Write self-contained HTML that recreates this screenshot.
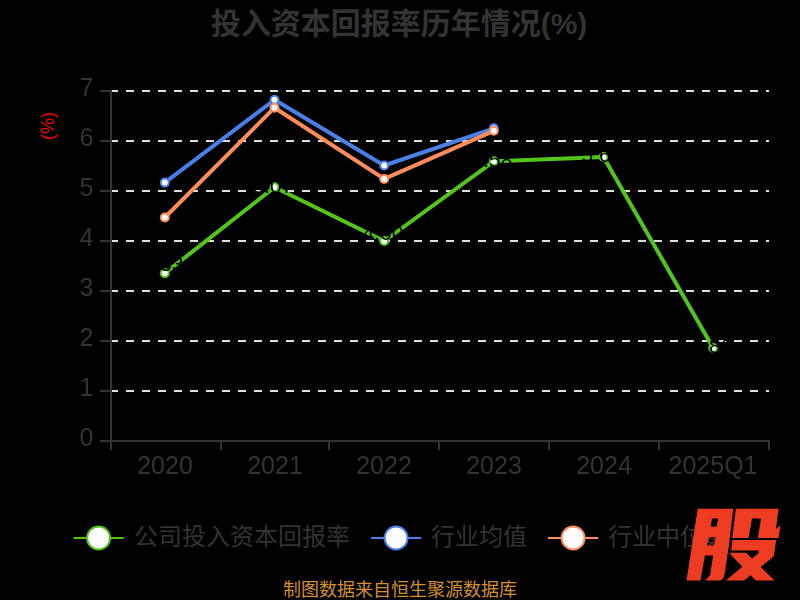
<!DOCTYPE html>
<html lang="zh"><head><meta charset="utf-8"><title>投入资本回报率历年情况(%)</title>
<style>
html,body{margin:0;padding:0;background:#000;}
body{width:800px;height:600px;position:relative;overflow:hidden;font-family:"Liberation Sans",sans-serif;color:#333333;}
svg{position:absolute;left:0;top:0;}
svg text{font-family:"Liberation Sans","Noto Sans CJK SC",sans-serif;}
.yl,.xl{will-change:transform;}
.yl{position:absolute;left:40px;width:53px;text-align:right;font-size:25px;letter-spacing:-0.3px;line-height:28px;height:28px;}
.xl{position:absolute;top:450.7px;width:120px;text-align:center;font-size:25px;letter-spacing:0;line-height:28px;height:28px;}
.dl{position:absolute;width:60px;text-align:center;font-size:21px;line-height:22px;height:22px;color:#000;will-change:transform;}
.unit{position:absolute;left:47.5px;top:126px;width:0;height:0;}
.unit span{position:absolute;left:-30px;top:-12px;width:60px;height:24px;line-height:24px;text-align:center;font-size:18px;color:#ff0000;transform:rotate(-90deg);display:block;}
</style></head>
<body>
<svg width="800" height="600" viewBox="0 0 800 600">
<line x1="110" y1="391" x2="769" y2="391" stroke="#dedede" stroke-width="2" stroke-dasharray="8 8"/>
<line x1="110" y1="341" x2="769" y2="341" stroke="#dedede" stroke-width="2" stroke-dasharray="8 8"/>
<line x1="110" y1="291" x2="769" y2="291" stroke="#dedede" stroke-width="2" stroke-dasharray="8 8"/>
<line x1="110" y1="241" x2="769" y2="241" stroke="#dedede" stroke-width="2" stroke-dasharray="8 8"/>
<line x1="110" y1="191" x2="769" y2="191" stroke="#dedede" stroke-width="2" stroke-dasharray="8 8"/>
<line x1="110" y1="141" x2="769" y2="141" stroke="#dedede" stroke-width="2" stroke-dasharray="8 8"/>
<line x1="110" y1="91" x2="769" y2="91" stroke="#dedede" stroke-width="2" stroke-dasharray="8 8"/>
<g stroke="#333333" stroke-width="2" fill="none">
<line x1="111" y1="89.5" x2="111" y2="442"/>
<line x1="100" y1="441" x2="770" y2="441"/>
<line x1="100" y1="391" x2="111" y2="391"/>
<line x1="100" y1="341" x2="111" y2="341"/>
<line x1="100" y1="291" x2="111" y2="291"/>
<line x1="100" y1="241" x2="111" y2="241"/>
<line x1="100" y1="191" x2="111" y2="191"/>
<line x1="100" y1="141" x2="111" y2="141"/>
<line x1="100" y1="91" x2="111" y2="91"/>
<line x1="111" y1="441" x2="111" y2="450"/>
<line x1="221" y1="441" x2="221" y2="450"/>
<line x1="329" y1="441" x2="329" y2="450"/>
<line x1="439" y1="441" x2="439" y2="450"/>
<line x1="549" y1="441" x2="549" y2="450"/>
<line x1="659" y1="441" x2="659" y2="450"/>
<line x1="769" y1="441" x2="769" y2="450"/>
</g>
<polyline points="164.8,273.3 274.5,187.2 384.2,241 493.8,161.3 603.5,157 713.2,348" fill="none" stroke="#52c41a" stroke-width="4" stroke-linejoin="round"/>
<circle cx="164.8" cy="273.3" r="4" fill="#fff" stroke="#52c41a" stroke-width="2"/>
<circle cx="274.5" cy="187.2" r="4" fill="#fff" stroke="#52c41a" stroke-width="2"/>
<circle cx="384.2" cy="241" r="4" fill="#fff" stroke="#52c41a" stroke-width="2"/>
<circle cx="493.8" cy="161.3" r="4" fill="#fff" stroke="#52c41a" stroke-width="2"/>
<circle cx="603.5" cy="157" r="4" fill="#fff" stroke="#52c41a" stroke-width="2"/>
<circle cx="713.2" cy="348" r="4" fill="#fff" stroke="#52c41a" stroke-width="2"/>
<polyline points="164.8,182.6 274.5,99.8 384.2,165.5 493.8,128.3" fill="none" stroke="#4a7fe8" stroke-width="4" stroke-linejoin="round"/>
<circle cx="164.8" cy="182.6" r="4" fill="#fff" stroke="#4a7fe8" stroke-width="2"/>
<circle cx="274.5" cy="99.8" r="4" fill="#fff" stroke="#4a7fe8" stroke-width="2"/>
<circle cx="384.2" cy="165.5" r="4" fill="#fff" stroke="#4a7fe8" stroke-width="2"/>
<circle cx="493.8" cy="128.3" r="4" fill="#fff" stroke="#4a7fe8" stroke-width="2"/>
<polyline points="164.8,217.5 274.5,107.7 384.2,178.9 493.8,130.8" fill="none" stroke="#ff8c5a" stroke-width="4" stroke-linejoin="round"/>
<circle cx="164.8" cy="217.5" r="4" fill="#fff" stroke="#ff8c5a" stroke-width="2"/>
<circle cx="274.5" cy="107.7" r="4" fill="#fff" stroke="#ff8c5a" stroke-width="2"/>
<circle cx="384.2" cy="178.9" r="4" fill="#fff" stroke="#ff8c5a" stroke-width="2"/>
<circle cx="493.8" cy="130.8" r="4" fill="#fff" stroke="#ff8c5a" stroke-width="2"/>
<text x="399" y="34" font-size="30" font-weight="bold" fill="#333333" text-anchor="middle">投入资本回报率历年情况(%)</text>
<line x1="73.5" y1="537.9" x2="123.7" y2="537.9" stroke="#52c41a" stroke-width="2"/>
<circle cx="98.6" cy="538" r="11.5" fill="#fff" stroke="#52c41a" stroke-width="2"/>
<text x="134" y="545" font-size="24" fill="#333333">公司投入资本回报率</text>
<line x1="371.0" y1="537.9" x2="421.2" y2="537.9" stroke="#4a7fe8" stroke-width="2"/>
<circle cx="396.1" cy="538" r="11.5" fill="#fff" stroke="#4a7fe8" stroke-width="2"/>
<text x="431" y="545" font-size="24" fill="#333333">行业均值</text>
<line x1="548.0" y1="537.9" x2="598.2" y2="537.9" stroke="#ff8c5a" stroke-width="2"/>
<circle cx="573.1" cy="538" r="11.5" fill="#fff" stroke="#ff8c5a" stroke-width="2"/>
<text x="608" y="545" font-size="24" fill="#333333">行业中位数</text>
<text x="400" y="596" font-size="18" fill="#d2912b" text-anchor="middle">制图数据来自恒生聚源数据库</text>
<g fill="#ee3c23" aria-label="股">
<path fill-rule="evenodd" d="M697.75 508.7 L733.25 508.7 L729 545 L724.6 574 Q723.6 580.6 718.5 580.6 L704.9 580.6 L710.1 575.4 L713.1 555.5 L704.9 555.5 L700.4 580.6 L686.5 580.6ZM712 518.5 L718.2 518.5 L716.5 526.8 L710.5 526.8ZM708.8 537 L715.7 537 L714 545.5 L707.2 545.5Z"/>
<path d="M735.9 508.7 L778.6 508.7 L775.9 528.9 L780.4 525.3 L778.6 538 L757.9 538 L761 518.4 L752 518.4 L748.6 538 L732.1 538Z"/>
<path d="M732.4 540.1 L776.2 540.1 L773.8 556.25 L744.1 580.6 L725.75 580.6 L758.7 552.9 L758.7 550.4 L731.2 550.4Z"/>
<path d="M730.3 552.7 L746.2 552.7 L774.5 580.6 L755.75 580.6 L730.1 554Z"/>
</g>
</svg>
<div class="yl" style="top:422.5px">0</div><div class="yl" style="top:372.5px">1</div><div class="yl" style="top:322.5px">2</div><div class="yl" style="top:272.5px">3</div><div class="yl" style="top:222.5px">4</div><div class="yl" style="top:172.5px">5</div><div class="yl" style="top:122.5px">6</div><div class="yl" style="top:72.5px">7</div>
<div class="xl" style="left:104.80000000000001px">2020</div><div class="xl" style="left:214.5px">2021</div><div class="xl" style="left:324.2px">2022</div><div class="xl" style="left:433.8px">2023</div><div class="xl" style="left:543.5px">2024</div><div class="xl" style="left:653.2px">2025Q1</div>
<div class="unit"><span>(%)</span></div>
<div class="dl" style="left:133.2px;top:252.8px">3.33</div><div class="dl" style="left:242.9px;top:174.9px">5.07</div><div class="dl" style="left:352.6px;top:222.2px">4.00</div><div class="dl" style="left:462.2px;top:148.5px">5.58</div><div class="dl" style="left:571.9px;top:144.2px">5.66</div><div class="dl" style="left:681.6px;top:334.5px">1.86</div>
</body></html>
